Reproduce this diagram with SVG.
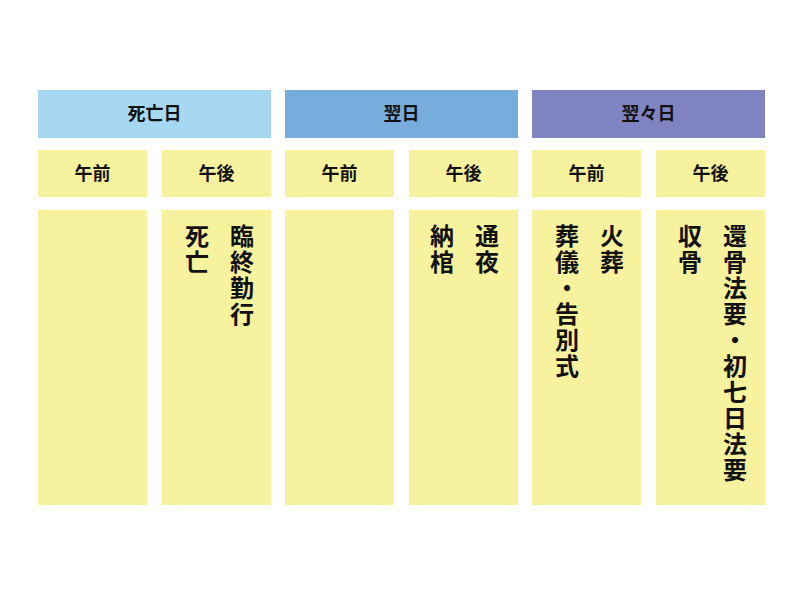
<svg xmlns="http://www.w3.org/2000/svg" width="800" height="600" viewBox="0 0 800 600">
<style>
.y{fill:#f7f29d}
.t{font-family:"Liberation Sans","Noto Sans CJK JP",sans-serif;font-weight:bold;font-size:18px;fill:#111;text-anchor:middle}
.v{font-family:"Liberation Sans","Noto Sans CJK JP",sans-serif;font-weight:bold;font-size:24px;fill:#111;writing-mode:vertical-rl;letter-spacing:2px}
</style>
<rect width="800" height="600" fill="#fff"/>
<g id="h1"><rect x="38" y="90" width="233" height="48" fill="#a6d9f1"/><text class="t" x="154.5" y="120">死亡日</text></g>
<g id="h2"><rect x="285" y="90" width="233" height="48" fill="#77addc"/><text class="t" x="401.5" y="120">翌日</text></g>
<g id="h3"><rect x="532" y="90" width="233" height="48" fill="#7f83c2"/><text class="t" x="648.5" y="120">翌々日</text></g>
<g id="s1"><rect class="y" x="38" y="150" width="109" height="47"/><text class="t" x="92.5" y="180">午前</text></g>
<g id="s2"><rect class="y" x="162" y="150" width="109" height="47"/><text class="t" x="216.5" y="180">午後</text></g>
<g id="s3"><rect class="y" x="285" y="150" width="109" height="47"/><text class="t" x="339.5" y="180">午前</text></g>
<g id="s4"><rect class="y" x="409" y="150" width="109" height="47"/><text class="t" x="463.5" y="180">午後</text></g>
<g id="s5"><rect class="y" x="532" y="150" width="109" height="47"/><text class="t" x="586.5" y="180">午前</text></g>
<g id="s6"><rect class="y" x="656" y="150" width="109" height="47"/><text class="t" x="710.5" y="180">午後</text></g>
<g id="b1"><rect class="y" x="38" y="210" width="109" height="295"/></g>
<g id="b2"><rect class="y" x="162" y="210" width="109" height="295"/><text class="v" x="240" y="224">臨終勤行</text><text class="v" x="195" y="224">死亡</text></g>
<g id="b3"><rect class="y" x="285" y="210" width="109" height="295"/></g>
<g id="b4"><rect class="y" x="409" y="210" width="109" height="295"/><text class="v" x="485" y="224">通夜</text><text class="v" x="440" y="224">納棺</text></g>
<g id="b5"><rect class="y" x="532" y="210" width="109" height="295"/><text class="v" x="610" y="224">火葬</text><text class="v" x="565" y="224">葬儀・告別式</text></g>
<g id="b6"><rect class="y" x="656" y="210" width="109" height="295"/><text class="v" x="733" y="224">還骨法要・初七日法要</text><text class="v" x="688" y="224">収骨</text></g>
<g id="connectors"/>
</svg>
